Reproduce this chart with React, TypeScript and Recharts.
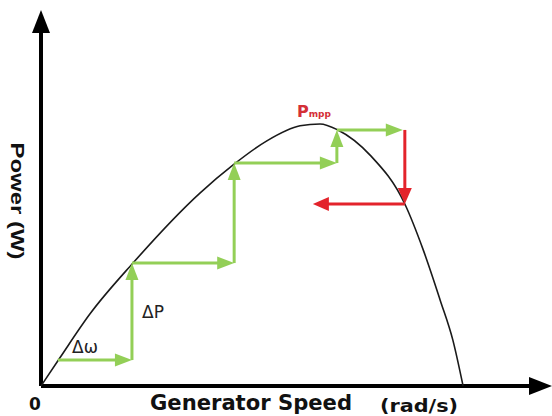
import React from "react";
import { LineChart, Line, XAxis, YAxis, ReferenceLine } from "recharts";

// P-ω curve of the generator (speed in % of axis, power in % of axis)
const curveSpeed = [0, 3.7, 9.6, 18.0, 31.1, 37.6, 44.2, 50.7, 54.6, 58.1, 64.4, 71.2, 74.8, 78.1, 80.6, 82.6];
const curvePower = [0, 7.5, 19.2, 32.7, 51.3, 58.8, 65.2, 69.2, 69.7, 68.1, 61.4, 48.4, 36.2, 22.9, 12.2, 0];

// hill-climbing steps (green) and the overshoot after the MPP (red)
const climbSpeed = [3.3, 17.8, 17.8, 37.8, 37.8, 57.9, 57.9, 70.8];
const climbPower = [6.9, 6.9, 32.7, 32.7, 59.3, 59.3, 68.1, 68.1];
const overshootSpeed = [71.2, 71.2, 53.2];
const overshootPower = [68.1, 48.4, 48.4];

const GREEN = "#93cf57";
const RED = "#e3232b";
const FONT = "'DejaVu Sans', Verdana, sans-serif";

const curveData = curveSpeed.map((s, i) => ({ speed: s, power: curvePower[i] }));

function toSegments(xs: number[], ys: number[]) {
  const out: { x: number; y: number }[][] = [];
  for (let i = 0; i < xs.length - 1; i++) {
    out.push([
      { x: xs[i], y: ys[i] },
      { x: xs[i + 1], y: ys[i + 1] },
    ]);
  }
  return out;
}

const arrowShape = (color: string, width: number, headLen: number, headW: number) => (props: any) => {
  const { x1, y1, x2, y2 } = props;
  const dx = x2 - x1;
  const dy = y2 - y1;
  const len = Math.hypot(dx, dy) || 1;
  const ux = dx / len;
  const uy = dy / len;
  const bx = x2 - ux * headLen;
  const by = y2 - uy * headLen;
  const px = -uy;
  const py = ux;
  return (
    <g>
      <line x1={x1} y1={y1} x2={bx + ux * 2} y2={by + uy * 2} stroke={color} strokeWidth={width} />
      <polygon
        points={`${x2},${y2} ${bx + px * headW},${by + py * headW} ${bx - px * headW},${by - py * headW}`}
        fill={color}
      />
    </g>
  );
};

const greenArrow = arrowShape(GREEN, 3, 17, 6.5);
const redArrow = arrowShape(RED, 3, 16, 7);
const axisArrow = arrowShape("#000", 4, 23, 9);

export default function App() {
  const climb = toSegments(climbSpeed, climbPower);
  const overshoot = toSegments(overshootSpeed, overshootPower);

  return (
    <div style={{ position: "fixed", left: 0, top: 0, width: 552, height: 416, background: "#fff" }}>
      <LineChart
        width={552}
        height={416}
        data={curveData}
        margin={{ top: 10, right: 0, bottom: 30, left: 41 }}
      >
        <XAxis type="number" dataKey="speed" domain={[0, 100]} hide />
        <YAxis type="number" domain={[0, 100]} hide />

        <ReferenceLine segment={[{ x: 0, y: 0 }, { x: 0, y: 100 }]} shape={axisArrow} />
        <ReferenceLine segment={[{ x: 0, y: 0 }, { x: 100, y: 0 }]} shape={axisArrow} />

        <Line
          type="monotone"
          dataKey="power"
          stroke="#1a1a1a"
          strokeWidth={1.6}
          dot={false}
          activeDot={false}
          isAnimationActive={false}
        />

        {climb.map((seg, i) => (
          <ReferenceLine key={`g-${i}`} segment={seg} shape={greenArrow} />
        ))}
        {overshoot.map((seg, i) => (
          <ReferenceLine key={`r-${i}`} segment={seg} shape={redArrow} />
        ))}

        <text x={72} y={353} fontFamily={FONT} fontSize={17} fill="#222">
          Δω
        </text>
        <text x={142} y={318} fontFamily={FONT} fontSize={17} fill="#222">
          ΔP
        </text>
        <text x={297} y={117} fontFamily={FONT} fontWeight="bold" fill="#d42f37">
          <tspan fontSize={16}>P</tspan>
          <tspan fontSize={9}>mpp</tspan>
        </text>
        <text
          x={17}
          y={201}
          fontFamily="'Liberation Sans', Arial, sans-serif"
          fontWeight="bold"
          fontSize={18}
          fill="#111"
          textAnchor="middle"
          dominantBaseline="central"
          textLength={117}
          lengthAdjust="spacingAndGlyphs"
          transform="rotate(90, 17, 201)"
        >
          Power (W)
        </text>
        <text x={35} y={410} fontFamily={FONT} fontWeight="bold" fontSize={17} fill="#111" textAnchor="middle">
          0
        </text>
        <text
          x={150}
          y={410}
          fontFamily={FONT}
          fontWeight="bold"
          fontSize={21}
          fill="#111"
          textLength={202}
          lengthAdjust="spacingAndGlyphs"
        >
          Generator Speed
        </text>
        <text
          x={380}
          y={412}
          fontFamily={FONT}
          fontWeight="bold"
          fontSize={18}
          fill="#111"
          textLength={78}
          lengthAdjust="spacingAndGlyphs"
        >
          (rad/s)
        </text>
      </LineChart>
    </div>
  );
}
